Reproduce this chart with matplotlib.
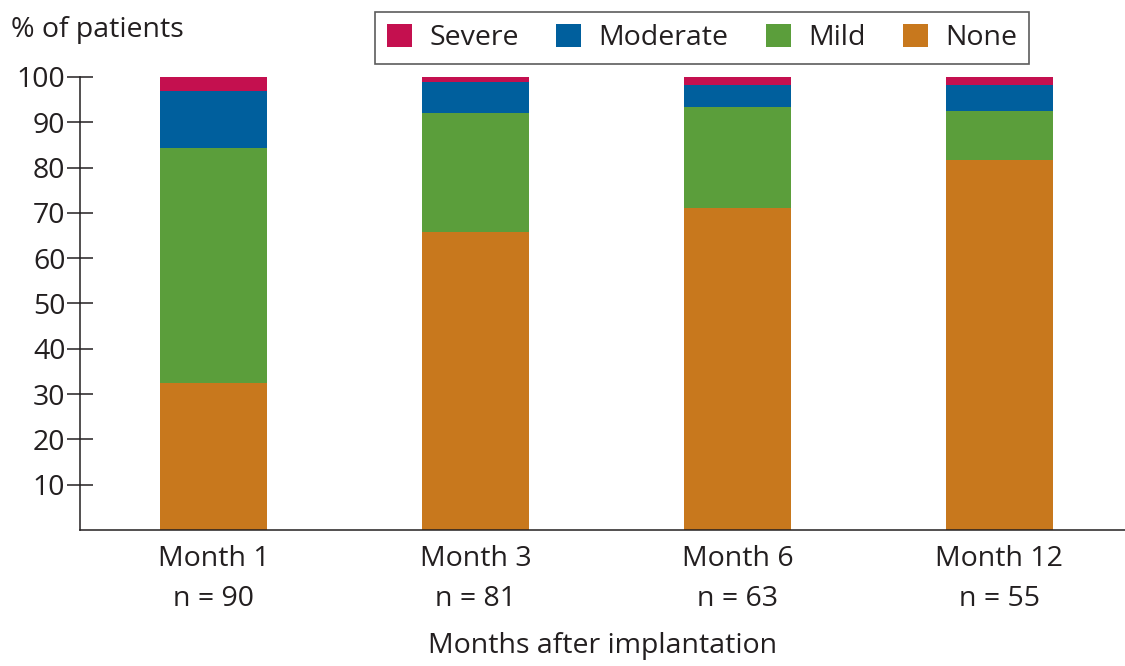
import numpy as np
import matplotlib.pyplot as plt
from matplotlib.patches import Patch

plt.rcParams['font.family'] = ['Open Sans', 'DejaVu Sans']

# data (percent of patients)
months = ["Month 1\nn = 90", "Month 3\nn = 81", "Month 6\nn = 63", "Month 12\nn = 55"]
none = [32.4, 65.8, 71.1, 81.7]
mild = [51.9, 26.3, 22.2, 10.7]
moderate = [12.5, 6.9, 5.0, 5.9]
severe = [3.2, 1.0, 1.7, 1.7]

labels = ["Severe", "Moderate", "Mild", "None"]
colors = {"Severe": "#C4104F", "Moderate": "#005F9D",
          "Mild": "#5B9E3B", "None": "#C8781D"}

fs = 20.5
txt = "#231F20"

fig = plt.figure(figsize=(11.25, 6.66), dpi=100)
ax = fig.add_axes([0.0711, 0.2042, 0.9289, 0.6802])

x = np.arange(len(months))
w = 0.41
bottom = np.zeros(len(months))
for name, vals in [("None", none), ("Mild", mild), ("Moderate", moderate), ("Severe", severe)]:
    ax.bar(x, vals, w, bottom=bottom, color=colors[name], linewidth=0)
    bottom += np.array(vals)

ax.set_xlim(-0.51, 3.48)
ax.set_ylim(0, 100)
ax.set_yticks(range(10, 101, 10))
ax.set_xticks(x)
ax.set_xticklabels(months, fontsize=fs, color=txt, linespacing=1.55)
ax.tick_params(axis='y', direction='inout', length=19, width=1.1,
               color=txt, labelsize=fs, labelcolor=txt, pad=1)
ax.tick_params(axis='x', length=0, pad=11)
for s in ["top", "right"]:
    ax.spines[s].set_visible(False)
for s in ["left", "bottom"]:
    ax.spines[s].set_linewidth(1.1)
    ax.spines[s].set_color(txt)

ax.set_xlabel("Months after implantation", fontsize=fs, color=txt, labelpad=14)
fig.text(0.010, 0.955, "% of patients", fontsize=fs, color=txt, va="center")

handles = [Patch(facecolor=colors[l], label=l) for l in labels]
leg = fig.legend(handles=handles, ncol=4, loc="center", bbox_to_anchor=(0.624, 0.943),
                 fontsize=fs, frameon=True, fancybox=False, edgecolor="#333333",
                 handlelength=0.9, handleheight=0.9, handletextpad=0.6,
                 columnspacing=1.3, borderpad=0.42, labelcolor=txt)
leg.get_frame().set_linewidth(1.2)

fig.savefig("out.png", dpi=100)
